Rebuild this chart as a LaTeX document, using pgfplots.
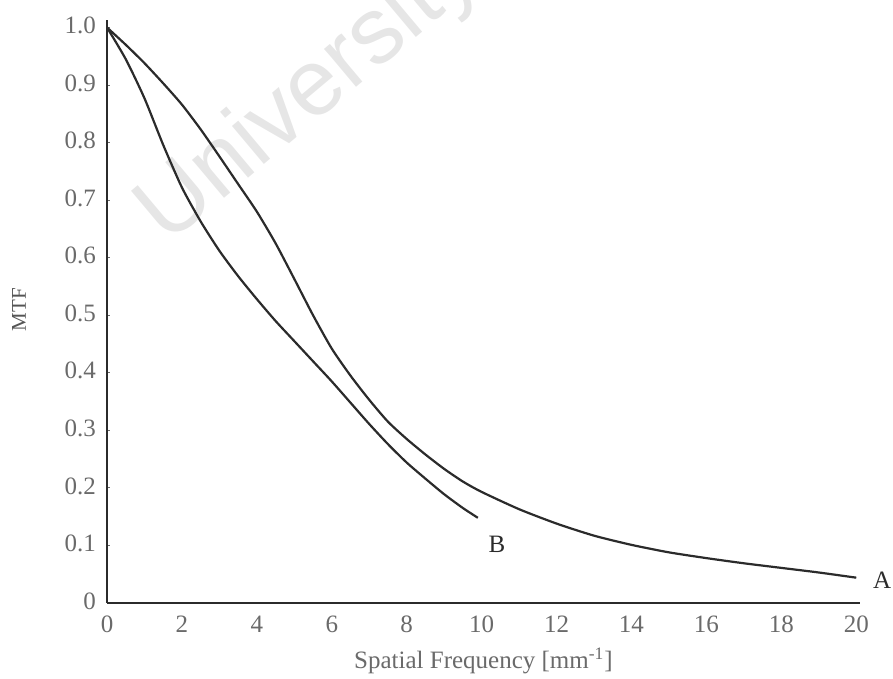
\documentclass[border=0pt]{standalone}
\usepackage{fontspec}
\setmainfont{Liberation Serif}
\newfontfamily\wmfont{Liberation Sans}
\usepackage{pgfplots}
\pgfplotsset{compat=1.18}

\definecolor{inkdark}{HTML}{2B2B2B}
\definecolor{labelgrey}{HTML}{6A6A6A}
\definecolor{wmgrey}{HTML}{E6E6E6}

% MTF curve A (measured out to 20 lp/mm)
\pgfplotstableread{
x y
0    1.000
0.5  0.970
1    0.938
1.5  0.903
2    0.866
2.5  0.823
3    0.776
3.5  0.728
4    0.680
4.5  0.625
5    0.563
5.5  0.500
6    0.442
6.5  0.395
7    0.353
7.5  0.315
8    0.285
8.5  0.258
9    0.233
9.5  0.211
10   0.193
11   0.163
12   0.138
13   0.117
14   0.101
15   0.088
16   0.078
17   0.069
18   0.061
19   0.053
20   0.044
}\curveA

% MTF curve B (measured out to 10 lp/mm)
\pgfplotstableread{
x y
0    1.000
0.5  0.945
1    0.877
1.5  0.796
2    0.722
2.5  0.663
3    0.612
3.5  0.568
4    0.528
4.5  0.490
5    0.455
5.5  0.420
6    0.385
6.5  0.348
7    0.311
7.5  0.276
8    0.244
8.5  0.216
9    0.189
9.5  0.165
9.9  0.148
}\curveB

\begin{document}
\begin{tikzpicture}
\begin{axis}[
  at={(0pt,0pt)}, anchor=origin,
  scale only axis,
  width=376.5pt, height=291.5pt,
  xmin=0, xmax=20.1, ymin=0, ymax=1.013,
  axis lines*=left,
  axis line style={inkdark, line width=0.9pt},
  clip=false,
  font=\fontsize{12.5}{14}\selectfont,
  /pgf/number format/assume math mode=true,
  xtick={0,2,...,20},
  ytick={0,0.1,...,1.0},
  yticklabels={0,0.1,0.2,0.3,0.4,0.5,0.6,0.7,0.8,0.9,1.0},
  major tick length=1.5pt,
  tick align=inside,
  xtick style={draw=none},
  ytick style={labelgrey, line width=0.4pt},
  xticklabel style={text=labelgrey, yshift=-3pt},
  yticklabel style={text=labelgrey, xshift=-2pt, yshift=1pt},
  xlabel={Spatial Frequency [mm\textsuperscript{-1}]},
  ylabel={MTF},
  xlabel style={text=labelgrey, at={(axis description cs:0.5,-0.1115)}, anchor=base},
  ylabel style={text=inkdark!80, font=\fontsize{10.5}{12}\selectfont,
                at={(axis description cs:-0.117,0.503)}, anchor=center, rotate=0},
]
  % faint watermark lettering behind the curves
  \node[anchor=base west, rotate=40, text=wmgrey, inner sep=0pt,
        font=\wmfont\fontsize{47}{56}\selectfont]
    at (axis cs:1.6,0.62) {University};

  \addplot[inkdark, line width=1.1pt, smooth, tension=0.4] table {\curveA};
  \addplot[inkdark, line width=1.1pt, smooth, tension=0.4] table {\curveB};

  \node[text=inkdark, anchor=west, xshift=3pt] at (axis cs:20.1,0.04) {A};
  \node[text=inkdark] at (axis cs:10.41,0.102) {B};
\end{axis}
\pgfresetboundingbox
\path[use as bounding box] (-53.5pt,-38pt) rectangle (393pt,301.5pt);
\end{tikzpicture}
\end{document}
